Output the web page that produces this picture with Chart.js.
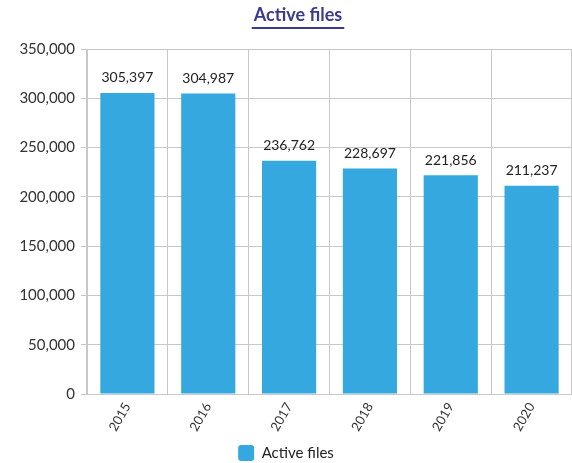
<!DOCTYPE html>
<html>
<head>
<meta charset="utf-8">
<script src="https://cdn.jsdelivr.net/npm/chart.js@4.4.0/dist/chart.umd.min.js"></script>
<style>
  html, body { margin: 0; padding: 0; background: #fff; }
  #wrap { width: 572px; height: 463px; position: relative; }
</style>
</head>
<body>
<div id="wrap"><canvas id="chart"></canvas></div>
<script>
// Data
const years = ['2015', '2016', '2017', '2018', '2019', '2020'];
const activeFiles = [305397, 304987, 236762, 228697, 221856, 211237];
const seriesName = 'Active files';
const chartTitle = 'Active files';

const FONT = 'Lato, "Open Sans", sans-serif';
const BAR_COLOR = '#35a8df';

// Title with an underline, drawn by hand
const titlePlugin = {
    id: 'underlinedTitle',
    afterDraw(chart) {
        const ctx = chart.ctx;
        const x = chart.width / 2 + 12;
        ctx.save();
        ctx.font = 'bold 18px ' + FONT;
        ctx.fillStyle = '#3b3b8e';
        ctx.textAlign = 'center';
        ctx.textBaseline = 'middle';
        ctx.fillText(chartTitle, x, 15);
        const w = ctx.measureText(chartTitle).width;
        ctx.strokeStyle = '#3b3b8e';
        ctx.lineWidth = 2;
        ctx.beginPath();
        ctx.moveTo(x - w / 2 - 2, 28);
        ctx.lineTo(x + w / 2 + 2, 28);
        ctx.stroke();
        ctx.restore();
    }
};

// Value labels above each bar
const valueLabels = {
    id: 'valueLabels',
    afterDatasetsDraw(chart) {
        const ctx = chart.ctx;
        const meta = chart.getDatasetMeta(0);
        ctx.save();
        ctx.font = '14px ' + FONT;
        ctx.fillStyle = '#222';
        ctx.textAlign = 'center';
        ctx.textBaseline = 'bottom';
        meta.data.forEach((bar, i) => {
            ctx.fillText(activeFiles[i].toLocaleString('en-US'), bar.x, bar.y - 8);
        });
        ctx.restore();
    }
};

new Chart(document.getElementById('chart'), {
    type: 'bar',
    data: {
        labels: years,
        datasets: [{
            label: seriesName,
            data: activeFiles,
            backgroundColor: BAR_COLOR,
            borderWidth: 0,
            categoryPercentage: 0.67,
            barPercentage: 1.0
        }]
    },
    plugins: [titlePlugin, valueLabels],
    options: {
        responsive: true,
        maintainAspectRatio: false,
        animation: false,
        layout: { padding: { top: 49, right: 0, left: 0, bottom: -8 } },
        plugins: {
            title: { display: false },
            tooltip: { enabled: false },
            legend: {
                position: 'bottom',
                labels: {
                    font: { size: 15, family: FONT },
                    color: '#222',
                    boxWidth: 16,
                    boxHeight: 16,
                    useBorderRadius: true,
                    borderRadius: 3,
                    padding: 5
                }
            }
        },
        scales: {
            x: {
                grid: { display: true, offset: true, color: '#c8c8c8', drawTicks: false },
                border: { color: '#c8c8c8' },
                ticks: {
                    font: { size: 13, family: FONT },
                    color: '#333',
                    maxRotation: 60,
                    minRotation: 60,
                    padding: 6
                }
            },
            y: {
                min: 0,
                max: 350000,
                afterFit: scale => { scale.width = 87; },
                grid: { color: '#c8c8c8', tickLength: 6 },
                border: { color: '#c8c8c8' },
                ticks: {
                    stepSize: 50000,
                    font: { size: 15, family: FONT },
                    color: '#333',
                    padding: 6,
                    callback: v => v.toLocaleString('en-US')
                }
            }
        }
    }
});
</script>
</body>
</html>
